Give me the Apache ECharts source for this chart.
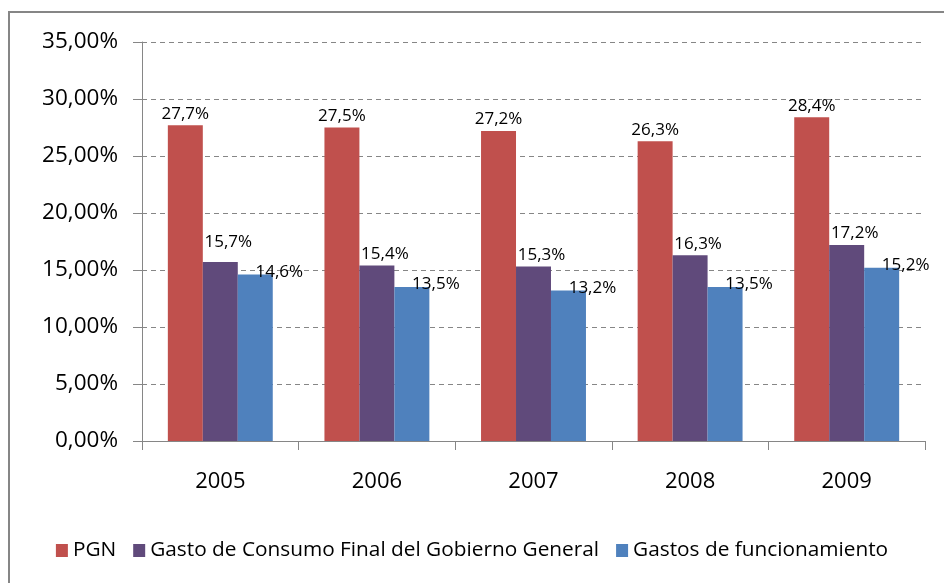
<!DOCTYPE html>
<html><head><meta charset="utf-8">
<script src="https://cdn.jsdelivr.net/npm/echarts@6/dist/echarts.min.js"></script>
<style>html,body{margin:0;padding:0;background:#fff}#c{width:944px;height:583px}</style>
</head><body><div id="c"></div>
<script>
var categories = ['2005','2006','2007','2008','2009'];
var pgn = [27.7, 27.5, 27.2, 26.3, 28.4];
var gastoConsumo = [15.7, 15.4, 15.3, 16.3, 17.2];
var gastosFunc = [14.6, 13.5, 13.2, 13.5, 15.2];
var seriesNames = ['PGN', 'Gasto de Consumo Final del Gobierno General', 'Gastos de funcionamiento'];

var FONT = '"Open Sans", "Noto Sans", sans-serif';
function fmt(v){ return v.toFixed(1).replace('.', ',') + '%'; }
var chart = echarts.init(document.getElementById('c'));
var lbl = function(off){
  return {show:true, position:'top', distance:3, offset:off, color:'#000', fontFamily:FONT, fontSize:17,
    formatter:function(p){return fmt(p.value);}};
};
// purple 2005 label lifted slightly to clear neighbour label
var purpleData = gastoConsumo.map(function(v, i){
  return i === 0 ? {value:v, label:{offset:[8,-8]}} : v;
});
chart.setOption({
  animation:false,
  graphic:[{type:'rect', shape:{x:9, y:12, width:960, height:600}, style:{fill:'none', stroke:'#868686', lineWidth:2}, z:-1}],
  grid:{left:142, right:19, top:42, bottom:142},
  legend:{bottom:17, left:'center', itemWidth:12, itemHeight:13, itemGap:17, icon:'rect',
    textStyle:{fontFamily:FONT, fontSize:20.8, color:'#000'}, data:seriesNames},
  xAxis:{type:'category', data:categories, boundaryGap:true,
    axisLine:{lineStyle:{color:'#868686', width:1}},
    axisTick:{show:true, length:9, lineStyle:{color:'#868686'}},
    axisLabel:{fontFamily:FONT, fontSize:22, color:'#000', margin:30}},
  yAxis:{type:'value', min:0, max:35, interval:5,
    axisLine:{show:true, lineStyle:{color:'#868686'}},
    axisTick:{show:true, inside:false, length:9, lineStyle:{color:'#868686'}},
    axisLabel:{fontFamily:FONT, fontSize:22.5, color:'#000', margin:24,
      formatter:function(v){return v.toFixed(2).replace('.', ',') + '%';}},
    splitLine:{lineStyle:{color:'#868686', type:[5,4]}}},
  series:[
    {name:seriesNames[0], type:'bar', data:pgn, barGap:'0%', barCategoryGap:'33%',
      itemStyle:{color:'#C0504D'}, label:lbl([0,0])},
    {name:seriesNames[1], type:'bar', data:purpleData, barGap:'0%', barCategoryGap:'33%',
      itemStyle:{color:'#604A7B'}, label:lbl([8,0])},
    {name:seriesNames[2], type:'bar', data:gastosFunc, barGap:'0%', barCategoryGap:'33%',
      itemStyle:{color:'#4F81BD'}, label:lbl([24,9])}
  ]
});
</script></body></html>
